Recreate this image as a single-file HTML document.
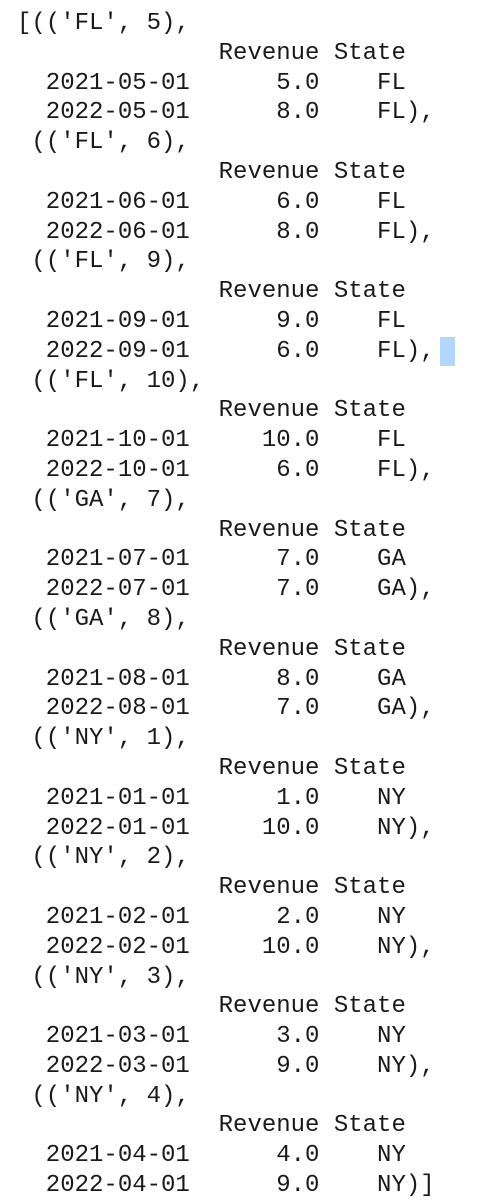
<!DOCTYPE html>
<html><head><meta charset="utf-8"><style>
html,body{margin:0;padding:0;background:#fff;width:480px;height:1200px;overflow:hidden}
pre{position:absolute;left:17px;top:9px;margin:0;font-family:"Liberation Mono",monospace;font-size:24px;line-height:29.8px;color:#1a1a1a;letter-spacing:0}
#hl{position:absolute;left:440px;top:337px;width:15px;height:29px;background:#b4d5fe}
</style></head><body>
<div id="hl"></div>
<pre>[(('FL', 5),
              Revenue State
  2021-05-01      5.0    FL
  2022-05-01      8.0    FL),
 (('FL', 6),
              Revenue State
  2021-06-01      6.0    FL
  2022-06-01      8.0    FL),
 (('FL', 9),
              Revenue State
  2021-09-01      9.0    FL
  2022-09-01      6.0    FL),
 (('FL', 10),
              Revenue State
  2021-10-01     10.0    FL
  2022-10-01      6.0    FL),
 (('GA', 7),
              Revenue State
  2021-07-01      7.0    GA
  2022-07-01      7.0    GA),
 (('GA', 8),
              Revenue State
  2021-08-01      8.0    GA
  2022-08-01      7.0    GA),
 (('NY', 1),
              Revenue State
  2021-01-01      1.0    NY
  2022-01-01     10.0    NY),
 (('NY', 2),
              Revenue State
  2021-02-01      2.0    NY
  2022-02-01     10.0    NY),
 (('NY', 3),
              Revenue State
  2021-03-01      3.0    NY
  2022-03-01      9.0    NY),
 (('NY', 4),
              Revenue State
  2021-04-01      4.0    NY
  2022-04-01      9.0    NY)]</pre>
</body></html>
